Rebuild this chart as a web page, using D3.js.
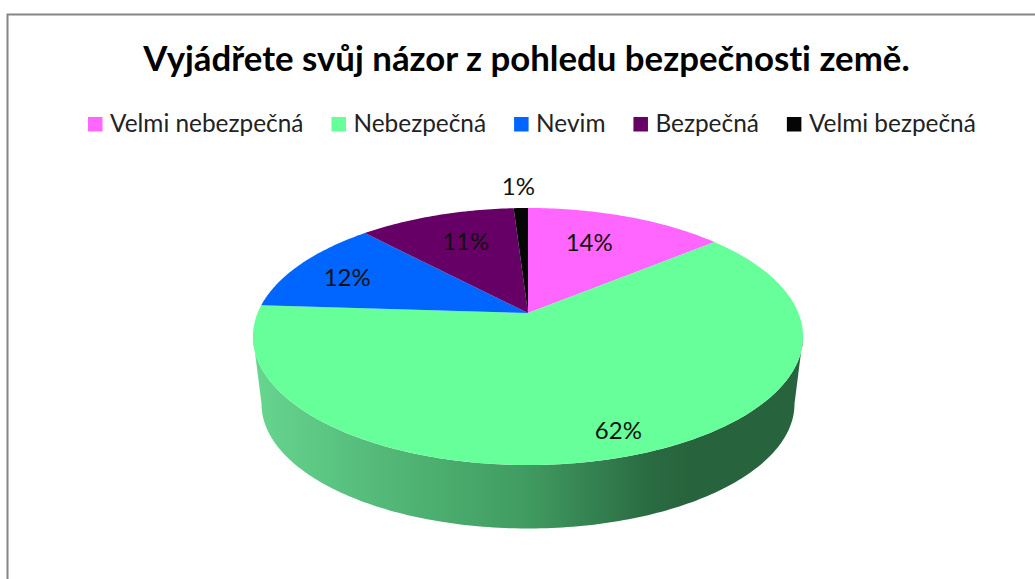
<!DOCTYPE html>
<html>
<head>
<meta charset="utf-8">
<script src="https://cdn.jsdelivr.net/npm/d3@7"></script>
<style>
  html, body { margin: 0; background: #fff; }
  svg { display: block; }
  text { font-family: Lato, "Noto Sans", sans-serif; fill: #111; font-variant-ligatures: none; }
</style>
</head>
<body>
<svg id="chart" width="1035" height="579"></svg>
<script>
"use strict";

var chartTitle = "Vyjádřete svůj názor z pohledu bezpečnosti země.";
var categories = ["Velmi nebezpečná", "Nebezpečná", "Nevim", "Bezpečná", "Velmi bezpečná"];
var shares = [14, 62, 12, 11, 1];
var colors = ["#ff66ff", "#66ff99", "#0066ff", "#660066", "#050505"];

// how far out each label sits, as a fraction of the pie radius,
// plus a small sideways nudge in pixels
var labelRadius = [0.7, 0.85, 0.72, 0.7, 1.26];
var labelNudge = [-11, 7, -14, 5, -1];

var svg = d3.select("#chart");

// Tilted disc: pie angle -> screen, with a little perspective so the
// apex sits above the middle of the ellipse like in the Excel chart.
var k = 0.183;
function project(angle, r, lower) {
  var u = Math.sin(angle) * r;
  var v = -Math.cos(angle) * r;
  var d = 1 - k * v;
  if (lower) {
    return [528 + 262 * u / d, 381 + 120.5 * v / d];
  }
  return [528 + 270.4 * u / d, 313 + 124.2 * v / d];
}

function arcPoints(a0, a1, lower) {
  var n = Math.max(2, Math.ceil(Math.abs(a1 - a0) * 60));
  return d3.range(n + 1).map(function (i) {
    return project(a0 + (a1 - a0) * i / n, 1, lower);
  });
}

var line = d3.line();
var pie = d3.pie().sort(null).value(function (d) { return d; });
var slices = pie(shares);

// frame, runs off the right and bottom of the picture
svg.append("rect")
  .attr("x", 7.5).attr("y", 14.5)
  .attr("width", 1100).attr("height", 700)
  .attr("fill", "#fff")
  .attr("stroke", "#868686")
  .attr("stroke-width", 2);

svg.append("text")
  .attr("x", 526.5).attr("y", 71)
  .attr("text-anchor", "middle")
  .attr("font-size", 34.8)
  .attr("font-weight", 700)
  .style("fill", "#000")
  .text(chartTitle);

// legend, laid out from the measured text widths
var legendX = 88;
categories.forEach(function (name, i) {
  var g = svg.append("g").attr("transform", "translate(" + legendX + ",0)");
  g.append("rect")
    .attr("x", 0).attr("y", 117)
    .attr("width", 14.5).attr("height", 14.5)
    .attr("fill", colors[i]);
  var t = g.append("text")
    .attr("x", 22).attr("y", 132)
    .attr("font-size", 24.4)
    .style("fill", "#222")
    .text(name);
  legendX += 22 + t.node().getComputedTextLength() + 28;
});

// side wall
var defs = svg.append("defs");
var grad = defs.append("linearGradient")
  .attr("id", "wall")
  .attr("gradientUnits", "userSpaceOnUse")
  .attr("x1", 253).attr("x2", 803).attr("y1", 0).attr("y2", 0);
[[0, "#66d68f"], [0.25, "#52b777"], [0.5, "#409b60"], [0.72, "#2a6b42"], [0.8, "#27633c"], [1, "#27633c"]]
  .forEach(function (s) {
    grad.append("stop").attr("offset", s[0]).attr("stop-color", s[1]);
  });

// front of the disc goes from the right extreme round to the left extreme
var side = Math.PI / 2 + Math.asin(k);
var wallPts = arcPoints(side, 2 * Math.PI - side, false)
  .concat(arcPoints(2 * Math.PI - side, side, true));
svg.append("path")
  .attr("d", line(wallPts) + "Z")
  .attr("fill", "url(#wall)");

// top face
svg.append("g").selectAll("path")
  .data(slices)
  .join("path")
    .attr("d", function (d) {
      var pts = [project(0, 0, false)].concat(arcPoints(d.startAngle, d.endAngle, false));
      return line(pts) + "Z";
    })
    .attr("fill", function (d, i) { return colors[i]; });

// percent labels
svg.append("g").selectAll("text")
  .data(slices)
  .join("text")
    .attr("transform", function (d, i) {
      var p = project((d.startAngle + d.endAngle) / 2, labelRadius[i], false);
      return "translate(" + (p[0] + labelNudge[i]) + "," + p[1] + ")";
    })
    .attr("text-anchor", "middle")
    .attr("dy", "0.36em")
    .attr("font-size", 24)
    .text(function (d) { return d.value + "%"; });
</script>
</body>
</html>
